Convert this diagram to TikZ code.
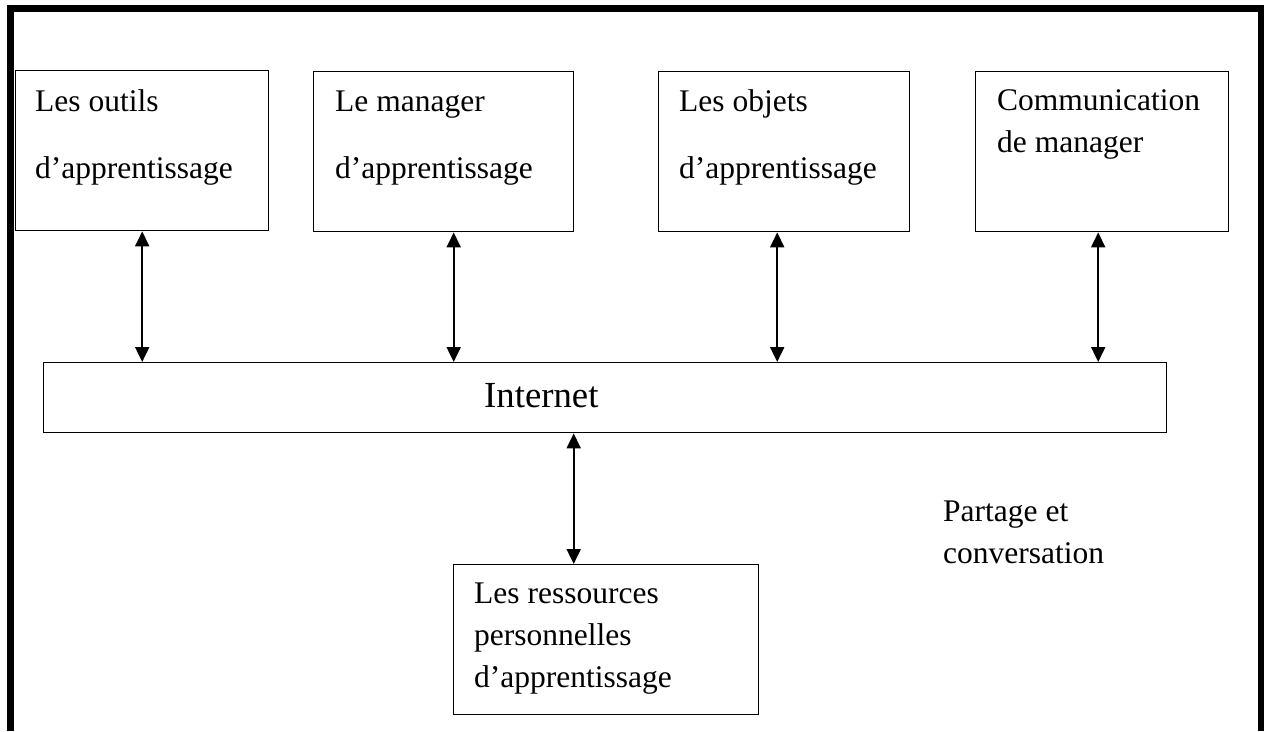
\documentclass[tikz,border=0pt]{standalone}
\usepackage{fontspec}
\setmainfont{Liberation Serif}
\usetikzlibrary{arrows.meta, positioning}

\begin{document}
\begin{tikzpicture}[x=1pt, y=-1pt,
		>={Triangle[length=15pt, width=14pt]},   % pointes de fleches
		box/.style={draw, line width=1.4pt, anchor=north west, inner sep=0pt},
		txt/.style={anchor=base west, align=left, inner sep=0pt, font=\fontsize{31.5}{42}\selectfont},
		link/.style={<->, line width=2pt}]
	\useasboundingbox (0,0) rectangle (1269,731);
	% cadre
	\draw[line width=6.5pt] (10.5,731) -- (10.5,8.5) -- (1261,8.5) -- (1261,731);
	% boites du haut
	\node[box, minimum width=253, minimum height=160] (outils) at (15,70) {};
	\node[box, minimum width=260, minimum height=160] (manager) at (313,71) {};
	\node[box, minimum width=251, minimum height=160] (objets) at (658,71) {};
	\node[box, minimum width=253, minimum height=160] (comm) at (975,71) {};
	% textes (ancre = ligne de base de la derniere ligne)
	\node[txt] (toutils) at (35,178) {Les outils\\[25pt]d’apprentissage};
	\node[txt] (tmanager) at (335,178) {Le manager\\[25pt]d’apprentissage};
	\node[txt] (tobjets) at (679,178) {Les objets\\[25pt]d’apprentissage};
	\node[txt] (tcomm) at (997,152) {Communication\\de manager};
	% Internet
	\node[box, minimum width=1123, minimum height=70] (net) at (43,362) {};
	\node[txt, font=\fontsize{36.75}{44}\selectfont] (tnet) at (484,407) {Internet};
	% ressources
	\node[box, minimum width=305, minimum height=150] (res) at (453,564) {};
	\node[txt] (tres) at (474,687) {Les ressources\\personnelles\\d’apprentissage};
	\node[txt] (partage) at (943,563) {Partage et\\conversation};
	% fleches
	\foreach \b/\dx in {outils/0, manager/10, objets/-7, comm/-4}
		\draw[link] ([xshift=\dx]\b.south) -- ([xshift=\dx]\b.south |- net.north);
	\draw[link] ([xshift=-32.5]res.north) -- ([xshift=-32.5]res.north |- net.south);
\end{tikzpicture}
\end{document}
